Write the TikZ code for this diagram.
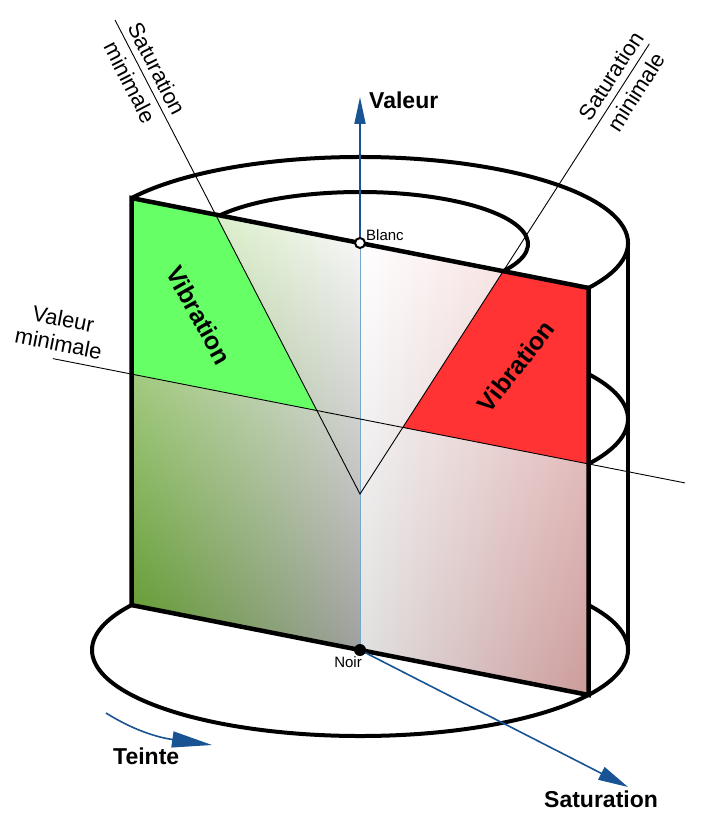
\documentclass[tikz,border=0pt]{standalone}
\usepackage{fontspec}
\setmainfont{Liberation Sans}
\usepackage{xcolor}
\definecolor{axiscolor}{RGB}{24,84,148}
\definecolor{paleaxis}{RGB}{120,165,200}
\definecolor{vibgreen}{RGB}{102,255,102}
\definecolor{vibred}{RGB}{255,51,51}
\definecolor{greenlight}{RGB}{205,235,180}
\definecolor{greendark}{RGB}{92,150,42}
\definecolor{greygreen}{RGB}{160,160,160}
\definecolor{pinklight}{RGB}{245,215,215}
\definecolor{pinkdark}{RGB}{205,155,155}
\definecolor{greylight}{RGB}{222,222,222}
\usetikzlibrary{arrows.meta,calc,shadings}

\begin{document}
\begin{tikzpicture}[x=1pt, y=1pt,
    rim/.style={line width=4pt},
    edge/.style={line width=4.5pt},
    guide/.style={line width=0.9pt},
    axisline/.style={axiscolor, line width=1.8pt},
    bigtext/.style={font=\fontsize{23}{26}\selectfont\bfseries, inner sep=0pt},
    pointtext/.style={font=\fontsize{15}{17}\selectfont, inner sep=0pt},
    limittext/.style={font=\fontsize{22}{25}\selectfont, align=center, inner sep=1pt},
    vibtext/.style={font=\fontsize{25}{28}\selectfont\bfseries}]
  \useasboundingbox (0,0) rectangle (701,-832);
  % centres of the levels
  \coordinate (blanc) at (360,-243);
  \coordinate (middle) at (360,-419);
  \coordinate (noir) at (360,-650);
  \coordinate (apex) at (360,-494);
  \coordinate (inner) at (360,-244);
  % corners of the panel
  \coordinate (TL) at ($(blanc)+(148.5:268pt and 86pt)$);
  \coordinate (TR) at ($(blanc)+(-31.5:268pt and 86pt)$);
  \coordinate (BL) at ($(noir)+(148.5:268pt and 86pt)$);
  \coordinate (BR) at ($(noir)+(-31.5:268pt and 86pt)$);
  \coordinate (ML) at ($(middle)+(148.5:268pt and 86pt)$);
  \coordinate (MR) at ($(middle)+(-31.5:268pt and 86pt)$);
  \coordinate (IL) at ($(inner)+(148.5:168pt and 52pt)$);
  \coordinate (IR) at ($(inner)+(-31.5:168pt and 52pt)$);
  \coordinate (S1) at (intersection of apex--IL and TL--TR);
  \coordinate (S2) at (intersection of apex--IR and TL--TR);
  \coordinate (G) at (intersection of apex--IL and ML--MR);
  \coordinate (R) at (intersection of apex--IR and ML--MR);
  \coordinate (valtip) at (360,-97);
  \coordinate (sattip) at (628,-787);
  \coordinate (teintestart) at (106,-713);
  \coordinate (teintetip) at (212,-745);

  % cylinder behind the panel
  \draw[rim] (TL) arc[start angle=148.5, end angle=-31.5, x radius=268pt, y radius=86pt];
  \draw[rim] (IL) arc[start angle=148.5, end angle=-31.5, x radius=168pt, y radius=52pt];
  \draw[rim] ($(middle)+(31.5:268pt and 86pt)$) arc[start angle=31.5, end angle=-31.5, x radius=268pt, y radius=86pt];
  \draw[rim] ($(noir)+(31.5:268pt and 86pt)$) arc[start angle=31.5, end angle=-211.5, x radius=268pt, y radius=86pt];
  \draw[rim] ($(blanc)+(268,0)$) -- ($(noir)+(268,0)$);

  % panel
  \shade[upper left=greenlight, upper right=white, lower left=greendark, lower right=greygreen]
    (TL) -- (blanc) -- (noir) -- (BL) -- cycle;
  \shade[upper left=white, upper right=pinklight, lower left=greylight, lower right=pinkdark]
    (blanc) -- (TR) -- (BR) -- (noir) -- cycle;
  \fill[vibgreen] (TL) -- (S1) -- (G) -- (ML) -- cycle;
  \fill[vibred] (S2) -- (TR) -- (MR) -- (R) -- cycle;
  \draw[paleaxis, line width=0.8pt] (noir) -- (blanc);
  \draw[edge] (TL) -- (TR) -- (BR) -- (BL) -- cycle;

  % limits
  \draw[guide] ($(apex)!1.71!(IL)$) -- (apex) -- ($(apex)!2.02!(IR)$);
  \draw[guide] ($(ML)!-0.172!(MR)$) -- ($(ML)!1.211!(MR)$);
  \node[limittext, rotate=-62.7] (satleft) at ($(apex)!1.51!(IL)$) {Saturation\\[5pt]minimale};
  \node[limittext, rotate=57.3] (satright) at ($(apex)!1.84!(IR)$) {Saturation\\[5pt]minimale};
  \node[limittext, rotate=-11.1] (valmin) at (61,-331) {Valeur\\minimale};
  \node[vibtext, rotate=-61] (vibleft) at (199,-315) {Vibration};
  \node[vibtext, rotate=52] (vibright) at (516,-366) {Vibration};

  % axes
  \draw[axisline, -{Triangle[length=27pt, width=11pt]}] (blanc) -- (valtip);
  \draw[axiscolor, line width=1.6pt, -{Triangle[length=30pt, width=14pt]}] (noir) -- (sattip);
  \draw[axiscolor, line width=1.6pt, -{Triangle[length=40pt, width=16pt]}] (teintestart) to[out=-32, in=172] (teintetip);
  \draw[line width=2pt, fill=white] (blanc) circle[radius=5pt];
  \fill (noir) circle[radius=6pt];

  \node[pointtext, anchor=base west] (blanclabel) at (366,-240) {Blanc};
  \node[pointtext, anchor=base east] (noirlabel) at (362,-667) {Noir};
  \node[bigtext, anchor=base west] (vallabel) at (369,-109) {Valeur};
  \node[bigtext, anchor=base west] (satlabel) at (544,-807) {Saturation};
  \node[bigtext, anchor=base west] (teintelabel) at (113,-764) {Teinte};
\end{tikzpicture}
\end{document}
